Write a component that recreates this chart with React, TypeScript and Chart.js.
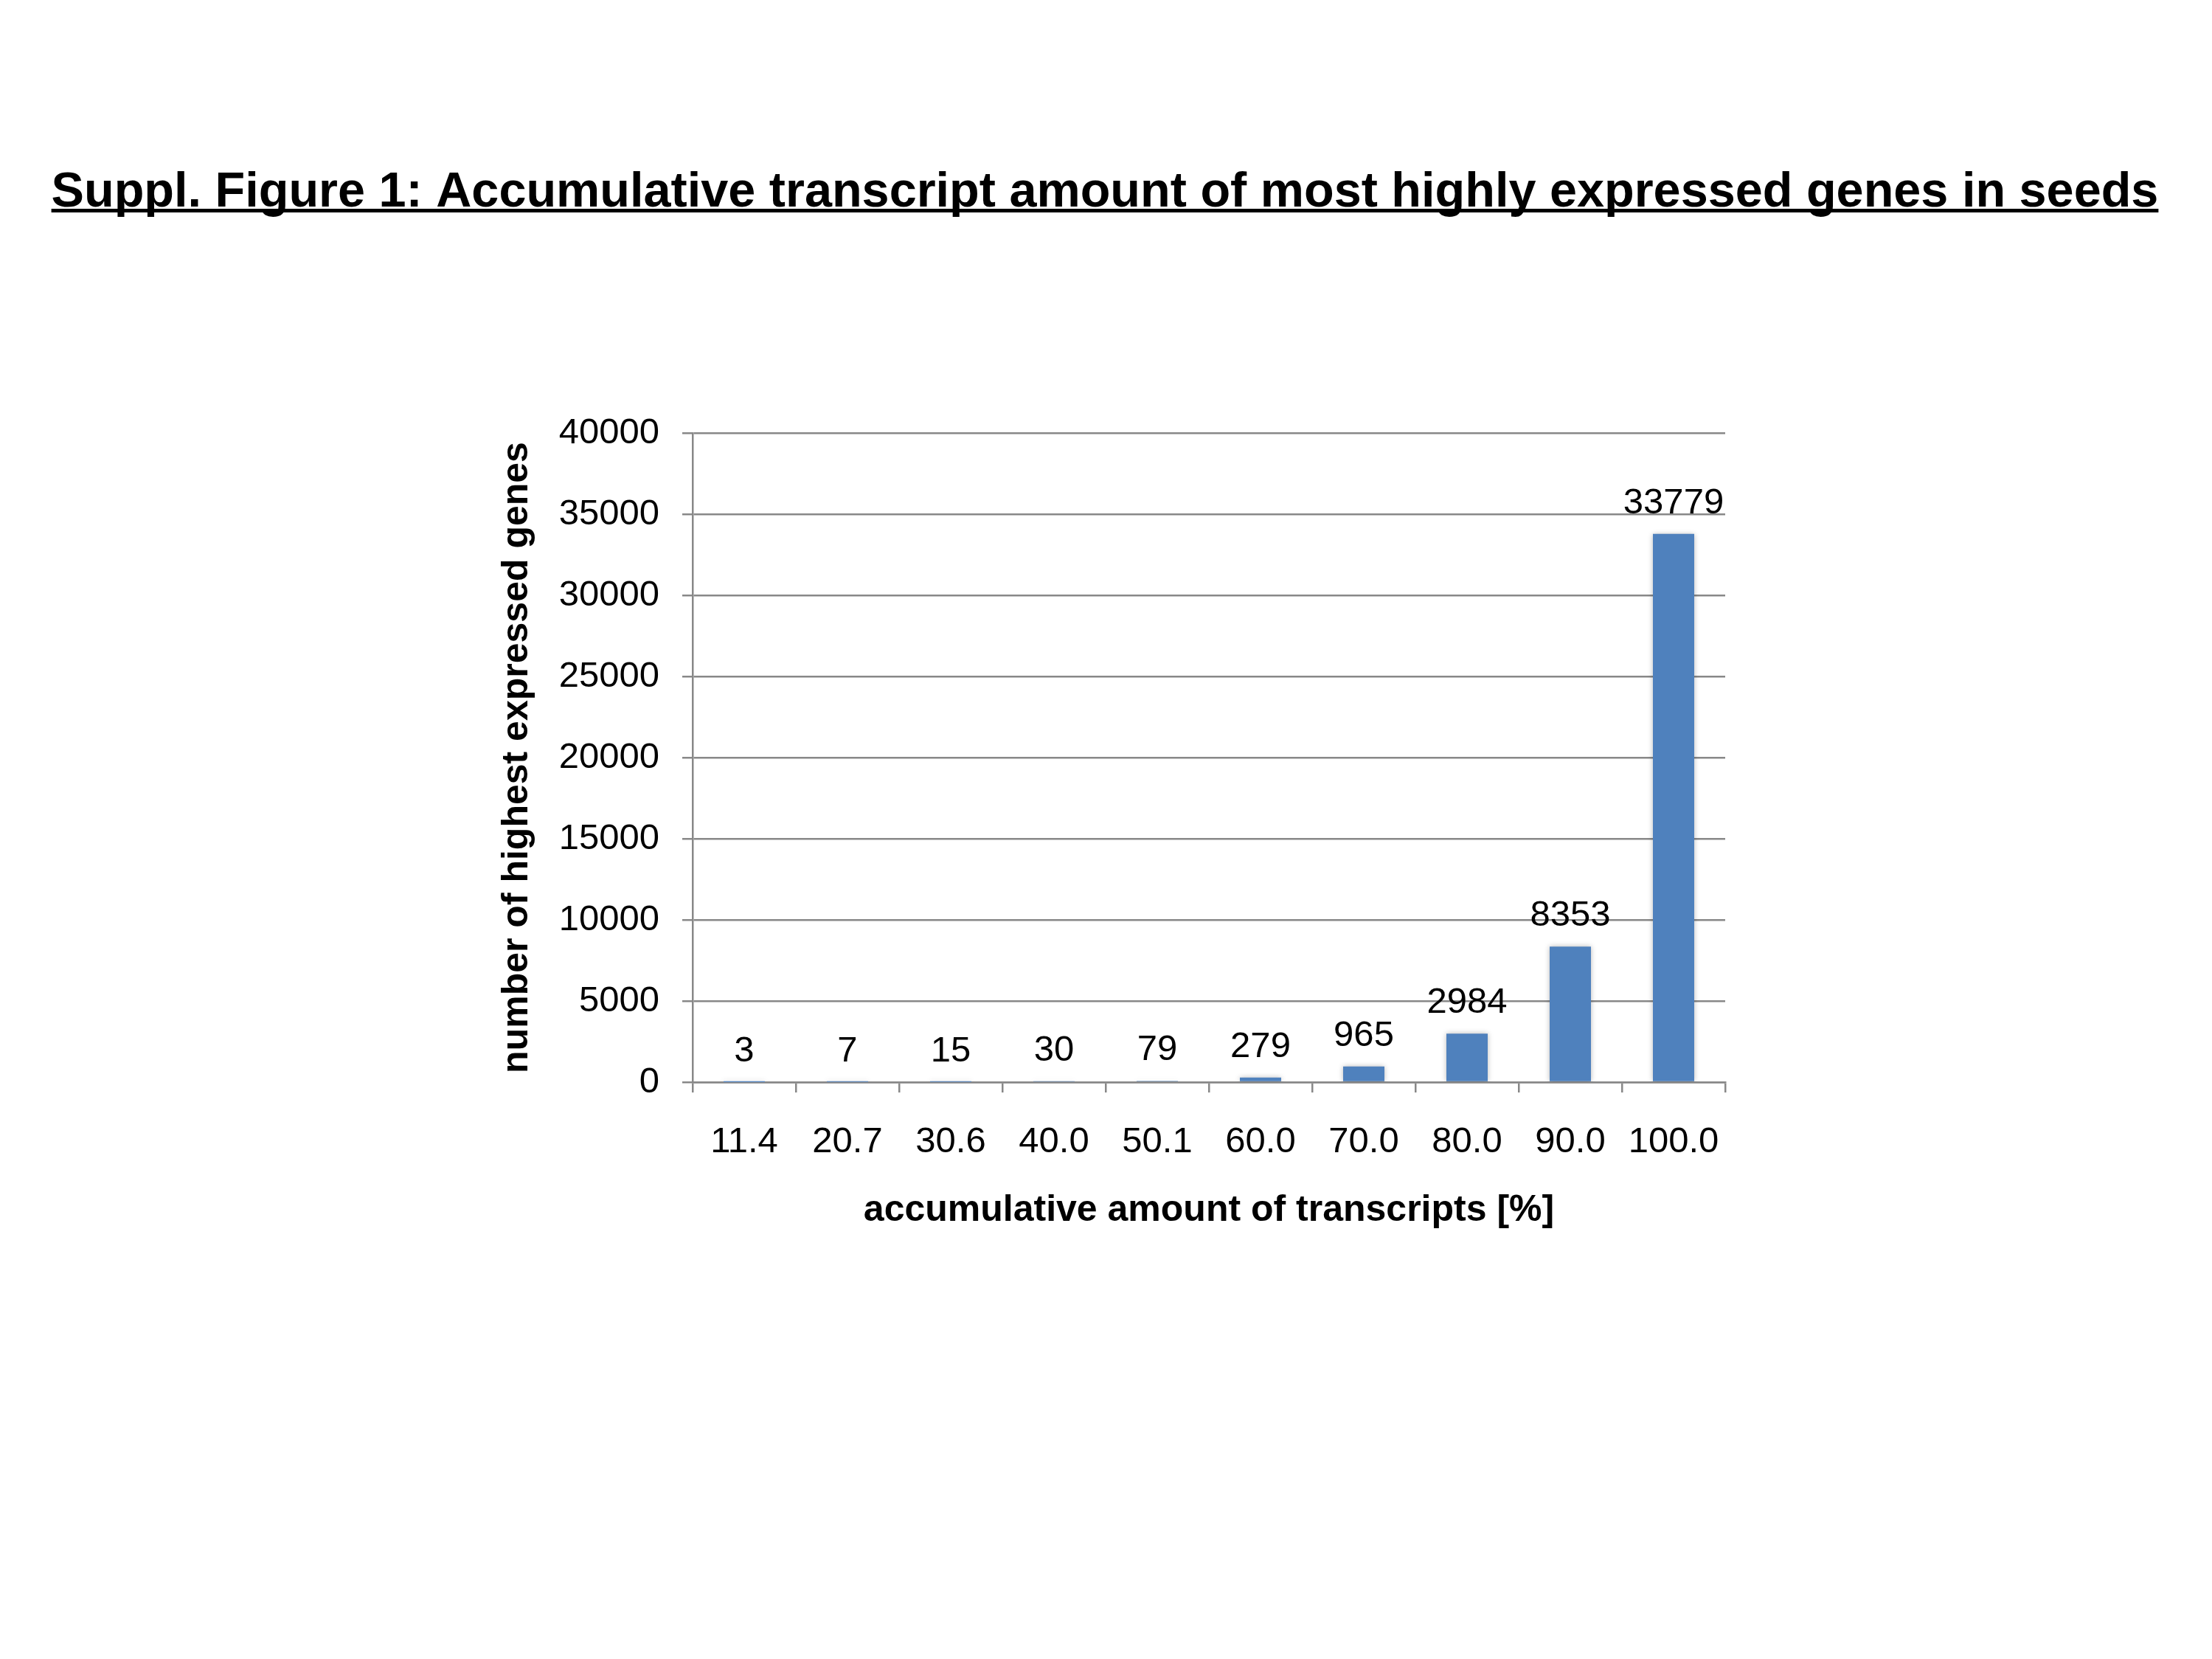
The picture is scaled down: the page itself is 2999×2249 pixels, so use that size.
import { useEffect, useRef } from 'react';
import { Chart, registerables } from 'chart.js';

Chart.register(...registerables);

const categories = ['11.4', '20.7', '30.6', '40.0', '50.1', '60.0', '70.0', '80.0', '90.0', '100.0'];
const geneCounts = [3, 7, 15, 30, 79, 279, 965, 2984, 8353, 33779];
const yMax = 40000;
const yStep = 5000;

const FONT = '"Liberation Sans", Arial, Helvetica, sans-serif';
const GRID = '#888888';
const BAR = '#4F81BD';
const TITLE = 'Suppl. Figure 1: Accumulative transcript amount of most highly expressed genes in seeds';

const titlePlugin = {
  id: 'figureTitle',
  afterDraw(chart: Chart) {
    const ctx = chart.ctx;
    ctx.save();
    ctx.font = `bold 66.6px ${FONT}`;
    ctx.fillStyle = '#000';
    ctx.textAlign = 'center';
    ctx.textBaseline = 'alphabetic';
    const cx = 1498;
    ctx.fillText(TITLE, cx, 280);
    const w = ctx.measureText(TITLE).width;
    ctx.fillRect(cx - w / 2, 283, w, 5);
    ctx.restore();
  },
};

const barShadow = {
  id: 'barShadow',
  beforeDatasetDraw(chart: Chart) {
    const ctx = chart.ctx;
    ctx.save();
    ctx.shadowColor = 'rgba(0,0,0,0.28)';
    ctx.shadowBlur = 7;
    ctx.shadowOffsetX = 0;
    ctx.shadowOffsetY = 0;
  },
  afterDatasetDraw(chart: Chart) {
    chart.ctx.restore();
  },
};

const valueLabels = {
  id: 'valueLabels',
  afterDatasetsDraw(chart: Chart) {
    const ctx = chart.ctx;
    const meta = chart.getDatasetMeta(0);
    ctx.save();
    ctx.font = `49px ${FONT}`;
    ctx.fillStyle = '#000';
    ctx.textAlign = 'center';
    ctx.textBaseline = 'alphabetic';
    meta.data.forEach((bar: any, i: number) => {
      ctx.fillText(String(geneCounts[i]), bar.x, bar.y - 28);
    });
    ctx.restore();
  },
};

export default function App() {
  const canvasRef = useRef<HTMLCanvasElement>(null);
  const chartRef = useRef<Chart | null>(null);

  useEffect(() => {
    if (!canvasRef.current) return;
    if (chartRef.current) chartRef.current.destroy();

    chartRef.current = new Chart(canvasRef.current, {
      type: 'bar',
      data: {
        labels: categories,
        datasets: [{
          data: geneCounts,
          backgroundColor: BAR,
          borderWidth: 0,
          categoryPercentage: 1,
          barPercentage: 0.4,
        }],
      },
      options: {
        responsive: false,
        devicePixelRatio: 1,
        animation: false,
        layout: { padding: { top: 587, right: 660, bottom: 0, left: 0 } },
        plugins: {
          legend: { display: false },
          tooltip: { enabled: false },
        },
        scales: {
          x: {
            grid: {
              drawOnChartArea: false,
              drawTicks: true,
              tickLength: 14,
              color: GRID,
              lineWidth: 2.5,
              offset: true,
            },
            border: { display: true, color: GRID, width: 2.5 },
            ticks: { padding: 38, color: '#000', font: { size: 49, family: FONT } },
            title: {
              display: true,
              text: 'accumulative amount of transcripts [%]',
              color: '#000',
              font: { size: 50, weight: 'bold', family: FONT },
              padding: { top: 0, bottom: 578 },
            },
            afterFit: (s: any) => { s.height = 782; },
          },
          y: {
            min: 0,
            max: yMax,
            ticks: {
              stepSize: yStep,
              padding: 31,
              color: '#000',
              font: { size: 49, family: FONT },
              callback: (v: any) => String(v),
            },
            grid: { color: GRID, lineWidth: 2.5, tickLength: 14 },
            border: { display: true, color: GRID, width: 2.5 },
            title: {
              display: true,
              text: 'number of highest expressed genes',
              color: '#000',
              font: { size: 50, weight: 'bold', family: FONT },
              padding: { top: 671, bottom: 0 },
            },
            afterFit: (s: any) => { s.width = 939; },
          },
        },
      },
      plugins: [titlePlugin, barShadow, valueLabels],
    });

    return () => {
      if (chartRef.current) chartRef.current.destroy();
      chartRef.current = null;
    };
  }, []);

  return (
    <div style={{ position: 'absolute', left: 0, top: 0, width: 2999, height: 2249, background: '#fff' }}>
      <canvas ref={canvasRef} width={2999} height={2249}></canvas>
    </div>
  );
}
